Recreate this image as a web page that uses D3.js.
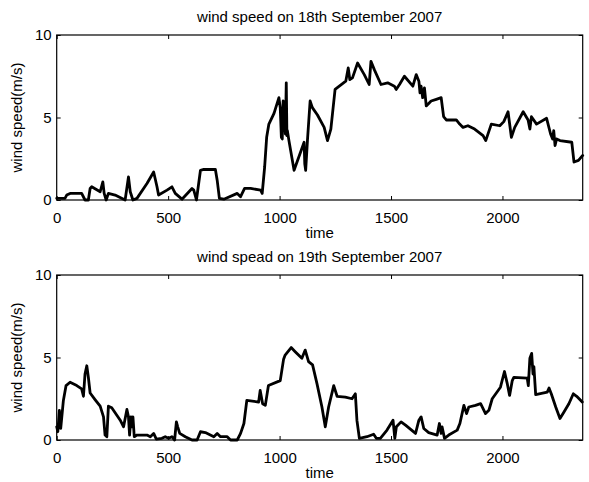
<!DOCTYPE html>
<html>
<head>
<meta charset="utf-8">
<script src="https://cdn.jsdelivr.net/npm/d3@7/dist/d3.min.js"></script>
<style>
  html, body { margin: 0; padding: 0; background: #fff; }
  svg { display: block; }
  text { font-family: "Liberation Sans", Arial, Helvetica, sans-serif; fill: #000; }
</style>
</head>
<body>
<svg id="chart" width="589" height="482"></svg>
<script>
// Wind speed samples [time, speed m/s] for each day
const sep18 = [
  [0,0.1],[37,0.1],[45,0.3],[60,0.4],[112,0.4],[127,0.0],[142,0.0],[150,0.7],[157,0.8],
  [195,0.5],[207,1.1],[213,0.4],[222,0.0],[232,0.4],[262,0.3],[307,0.0],[322,1.4],[330,0.5],
  [342,0.0],[360,0.1],[405,1.0],[435,1.7],[450,0.8],[457,0.3],[495,0.6],[517,0.8],[532,0.4],
  [562,0.05],[607,0.7],[615,0.6],[627,0.0],[645,1.8],[660,1.85],[712,1.85],[720,1.2],[730,0.1],
  [750,0.05],[810,0.4],[825,0.2],[843,0.7],[870,0.7],[915,0.6],[922,0.4],[933,2.0],[942,3.8],
  [952,4.6],[975,5.25],[997,6.2],[1003,5.6],[1008,3.8],[1012,3.7],[1016,6.0],[1020,5.9],
  [1026,4.0],[1030,7.1],[1033,3.9],[1035,4.2],[1042,3.6],[1065,1.8],[1110,3.5],[1113,2.2],
  [1117,1.8],[1125,3.6],[1137,6.0],[1147,5.6],[1170,5.15],[1200,4.4],[1215,3.6],[1230,4.3],
  [1249,6.7],[1297,7.2],[1308,8.0],[1315,7.3],[1327,7.4],[1350,8.3],[1380,7.6],[1402,7.0],
  [1410,8.4],[1425,7.9],[1455,7.0],[1485,7.1],[1515,6.9],[1523,6.7],[1538,7.0],[1560,7.5],
  [1598,6.9],[1613,7.6],[1625,7.2],[1630,6.5],[1635,6.9],[1642,6.2],[1650,6.8],[1658,5.7],
  [1680,6.0],[1703,6.1],[1725,6.2],[1736,5.05],[1748,4.85],[1793,4.85],[1808,4.6],[1823,4.4],
  [1845,4.5],[1875,4.3],[1913,3.9],[1925,3.6],[1950,4.6],[1988,4.5],[2006,4.75],[2025,5.35],
  [2040,3.8],[2055,4.4],[2093,5.35],[2115,4.85],[2123,4.3],[2130,5.05],[2153,4.6],[2198,4.95],
  [2216,4.0],[2225,3.7],[2230,4.2],[2236,3.3],[2243,3.7],[2258,3.6],[2311,3.5],[2321,2.3],
  [2341,2.4],[2360,2.7]
];

const sep19 = [
  [0,0.8],[5,0.5],[12,1.8],[18,0.7],[30,2.4],[42,3.3],[60,3.5],[90,3.3],[112,3.1],[120,2.65],
  [127,4.0],[135,4.5],[142,3.8],[150,2.85],[172,2.45],[195,2.05],[210,1.4],[217,0.3],[225,0.2],
  [232,2.05],[247,1.95],[285,1.2],[300,0.8],[315,1.85],[322,1.4],[327,0.3],[333,1.4],[337,0.8],
  [342,1.4],[348,0.2],[360,0.3],[405,0.3],[420,0.2],[435,0.4],[447,0.05],[472,0.1],[487,0.2],
  [502,0.1],[517,0.2],[529,0.0],[537,1.1],[543,0.8],[552,0.4],[577,0.2],[607,0.0],[630,0.0],
  [645,0.5],[667,0.45],[705,0.2],[720,0.4],[735,0.2],[765,0.2],[780,0.0],[810,0.0],[825,0.4],
  [840,1.0],[853,2.4],[906,2.3],[913,3.0],[924,2.2],[936,2.1],[950,3.3],[1003,3.6],[1018,4.9],
  [1025,5.15],[1052,5.6],[1070,5.35],[1100,4.95],[1115,5.45],[1130,4.75],[1148,4.55],[1168,3.4],
  [1190,2.0],[1205,0.8],[1220,2.0],[1243,3.3],[1258,2.65],[1295,2.6],[1325,2.5],[1340,2.8],
  [1347,1.2],[1358,0.1],[1392,0.2],[1422,0.35],[1434,0.1],[1452,0.1],[1482,0.6],[1509,1.2],
  [1517,0.1],[1524,0.8],[1545,1.1],[1565,0.9],[1610,0.4],[1625,1.2],[1635,1.4],[1647,0.7],
  [1669,0.45],[1707,0.3],[1717,1.0],[1725,0.4],[1729,0.8],[1740,0.1],[1759,0.3],[1797,0.6],
  [1809,1.0],[1827,2.1],[1839,1.6],[1849,2.0],[1879,2.1],[1902,2.2],[1924,1.6],[1939,1.8],
  [1954,2.5],[1991,3.2],[2009,4.15],[2021,3.45],[2032,2.7],[2044,3.6],[2051,3.8],[2111,3.75],
  [2116,3.3],[2123,4.95],[2131,5.25],[2137,4.0],[2141,4.45],[2149,2.75],[2201,2.9],[2209,3.15],
  [2219,2.8],[2239,2.0],[2258,1.3],[2276,1.7],[2298,2.2],[2318,2.8],[2333,2.65],[2358,2.3]
];

const xTicks = [0, 500, 1000, 1500, 2000];
const yTicks = [0, 5, 10];
const xDomain = [0, 2360];
const yDomain = [0, 10];

const panels = [
  { title: "wind speed on 18th September 2007", data: sep18, top: 35 },
  { title: "wind spead on 19th September 2007", data: sep19, top: 275 }
];

const svg = d3.select("#chart");
const left = 56.7, right = 582.7, plotH = 165;
const fmt = d3.format("d");

const x = d3.scaleLinear().domain(xDomain).range([left, right]);

panels.forEach(p => {
  const y = d3.scaleLinear().domain(yDomain).range([p.top + plotH, p.top]);
  const g = svg.append("g");

  // data line
  g.append("path")
    .datum(p.data)
    .attr("fill", "none")
    .attr("stroke", "#000")
    .attr("stroke-width", 2.8)
    .attr("stroke-linejoin", "round")
    .attr("stroke-linecap", "round")
    .attr("d", d3.line().x(d => x(d[0])).y(d => y(d[1])));

  // inward ticks on all four sides
  const bottom = g.append("g").attr("transform", `translate(0,${p.top + plotH})`)
    .call(d3.axisBottom(x).tickValues(xTicks).tickFormat(fmt).tickSizeInner(-4).tickSizeOuter(0).tickPadding(12));
  const topAx = g.append("g").attr("transform", `translate(0,${p.top})`)
    .call(d3.axisTop(x).tickValues(xTicks).tickSizeInner(-4).tickSizeOuter(0).tickFormat(""));
  const leftAx = g.append("g").attr("transform", `translate(${left},0)`)
    .call(d3.axisLeft(y).tickValues(yTicks).tickFormat(fmt).tickSizeInner(-4).tickSizeOuter(0).tickPadding(5));
  const rightAx = g.append("g").attr("transform", `translate(${right},0)`)
    .call(d3.axisRight(y).tickValues(yTicks).tickSizeInner(-4).tickSizeOuter(0).tickFormat(""));

  [bottom, topAx, leftAx, rightAx].forEach(a => {
    a.select(".domain").remove();
    a.selectAll("line").attr("stroke", "#000").attr("stroke-width", 1);
    a.selectAll("text").attr("font-size", 15).attr("font-family", "Liberation Sans, Arial, sans-serif");
  });

  // axes box
  g.append("rect")
    .attr("x", left).attr("y", p.top)
    .attr("width", right - left).attr("height", plotH)
    .attr("fill", "none").attr("stroke", "#000").attr("stroke-width", 1.2);

  // title
  g.append("text")
    .attr("x", (left + right) / 2).attr("y", p.top - 13)
    .attr("text-anchor", "middle").attr("font-size", 15)
    .text(p.title);

  // x label
  g.append("text")
    .attr("x", (left + right) / 2).attr("y", p.top + plotH + 38)
    .attr("text-anchor", "middle").attr("font-size", 15)
    .text("time");

  // y label
  g.append("text")
    .attr("transform", `translate(22,${p.top + plotH / 2}) rotate(-90)`)
    .attr("text-anchor", "middle").attr("font-size", 15)
    .text("wind speed(m/s)");
});
</script>
</body>
</html>
